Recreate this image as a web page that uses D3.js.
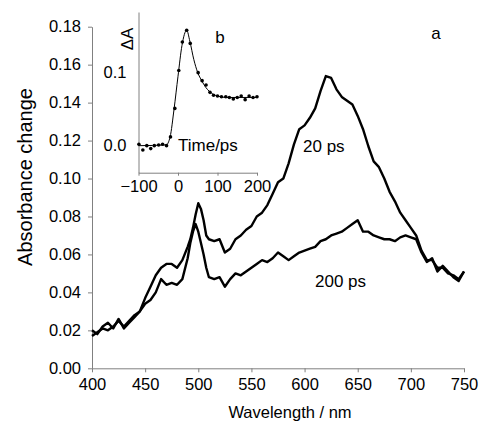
<!DOCTYPE html>
<html lang="en">

<head>
    <script src='https://d3js.org/d3.v7.min.js'></script>
    <style>
        body { margin: 0; background: #fff; }
        text { font-family: "Liberation Sans", Arial, sans-serif; fill: #000; }
    </style>
</head>

<body>

    <script>

        // spectra (main panel a)
        var wavelengths = [400, 405, 410, 415, 420, 425, 430, 435, 440, 445, 450, 455, 460, 465, 470, 475, 480, 485, 490, 492.5, 495, 497.5, 500, 502.5, 505, 507.5, 510, 515, 520, 525, 530, 535, 540, 545, 550, 555, 560, 565, 570, 575, 580, 585, 590, 595, 600, 605, 610, 615, 620, 625, 630, 635, 640, 645, 650, 655, 660, 665, 670, 675, 680, 685, 690, 695, 700, 705, 710, 715, 720, 725, 730, 735, 740, 745, 750];

        var abs20ps = [0.017, 0.019, 0.021, 0.020, 0.022, 0.025, 0.022, 0.025, 0.028, 0.030, 0.037, 0.043, 0.049, 0.053, 0.055, 0.055, 0.053, 0.057, 0.064, 0.068, 0.074, 0.081, 0.087, 0.084, 0.078, 0.070, 0.068, 0.067, 0.068, 0.061, 0.063, 0.068, 0.070, 0.073, 0.075, 0.080, 0.082, 0.086, 0.092, 0.098, 0.100, 0.108, 0.118, 0.126, 0.128, 0.132, 0.137, 0.146, 0.154, 0.153, 0.147, 0.143, 0.141, 0.139, 0.133, 0.126, 0.117, 0.109, 0.106, 0.100, 0.093, 0.088, 0.082, 0.078, 0.074, 0.070, 0.062, 0.057, 0.057, 0.053, 0.053, 0.050, 0.049, 0.047, 0.051];

        var abs200ps = [0.020, 0.018, 0.022, 0.024, 0.021, 0.026, 0.021, 0.024, 0.027, 0.030, 0.034, 0.036, 0.040, 0.047, 0.044, 0.045, 0.044, 0.047, 0.058, 0.066, 0.072, 0.076, 0.072, 0.066, 0.060, 0.053, 0.048, 0.047, 0.048, 0.043, 0.047, 0.050, 0.049, 0.051, 0.053, 0.055, 0.057, 0.056, 0.058, 0.061, 0.059, 0.057, 0.059, 0.061, 0.062, 0.063, 0.064, 0.067, 0.068, 0.070, 0.071, 0.072, 0.074, 0.076, 0.078, 0.072, 0.072, 0.070, 0.069, 0.068, 0.068, 0.067, 0.069, 0.070, 0.069, 0.068, 0.061, 0.056, 0.058, 0.051, 0.054, 0.051, 0.048, 0.046, 0.051];

        var xTicks = [400, 450, 500, 550, 600, 650, 700, 750];
        var yTicks = [0, 0.02, 0.04, 0.06, 0.08, 0.10, 0.12, 0.14, 0.16, 0.18];

        // kinetics (inset b)
        var insetTime = [-99, -89, -79, -69, -60, -49, -39, -29, -19, -8, 2, 11, 22, 31, 51, 61, 71, 81, 90, 100, 110, 121, 130, 140, 150, 160, 170, 180, 190, 200];
        var insetDA = [0.002, -0.006, 0.000, -0.004, 0.000, 0.001, 0.002, 0.000, 0.012, 0.051, 0.103, 0.142, 0.158, 0.140, 0.100, 0.089, 0.083, 0.073, 0.069, 0.068, 0.067, 0.067, 0.066, 0.064, 0.066, 0.068, 0.063, 0.068, 0.066, 0.067];

        var fitTime = [-100, -30, -20, -10, 0, 10, 22, 30, 40, 50, 60, 70, 80, 90, 100, 120, 150, 200];
        var fitDA = [0.000, 0.001, 0.012, 0.050, 0.095, 0.137, 0.158, 0.143, 0.118, 0.100, 0.089, 0.080, 0.074, 0.070, 0.068, 0.066, 0.066, 0.066];

        var insetXTicks = [-100, 0, 100, 200];
        var insetYTicks = [0, 0.1];

        var width = 480,
            height = 423;

        var svg = d3.select("body").append("svg")
            .attr("width", width)
            .attr("height", height);

        var x = d3.scaleLinear().domain([400, 750]).range([92, 464]);
        var y = d3.scaleLinear().domain([0, 0.18]).range([368.3, 26.7]);

        var axisColor = "#808080";

        var gx = svg.append("g")
            .attr("transform", "translate(0," + y(0) + ")")
            .call(d3.axisBottom(x).tickValues(xTicks).tickSize(4).tickSizeOuter(0).tickPadding(6));

        var gy = svg.append("g")
            .attr("transform", "translate(" + x(400) + ",0)")
            .call(d3.axisLeft(y).tickValues(yTicks).tickSize(4).tickSizeOuter(0).tickPadding(7)
                .tickFormat(d3.format(".2f")));

        [gx, gy].forEach(function (g) {
            g.select(".domain").attr("stroke", axisColor);
            g.selectAll(".tick line").attr("stroke", axisColor);
            g.selectAll(".tick text")
                .attr("font-size", 16.5)
                .attr("font-family", "Liberation Sans, Arial, sans-serif")
                .attr("fill", "#000");
        });

        svg.append("text")
            .attr("x", 290)
            .attr("y", 418)
            .attr("text-anchor", "middle")
            .attr("font-size", 16.5)
            .text("Wavelength / nm");

        svg.append("text")
            .attr("transform", "translate(32,177) rotate(-90)")
            .attr("text-anchor", "middle")
            .attr("font-size", 20)
            .text("Absorbance change");

        var line = d3.line()
            .x(function (d) { return x(d[0]); })
            .y(function (d) { return y(d[1]); });

        [abs200ps, abs20ps].forEach(function (vals) {
            svg.append("path")
                .datum(wavelengths.map(function (w, i) { return [w, vals[i]]; }))
                .attr("fill", "none")
                .attr("stroke", "#000")
                .attr("stroke-width", 2.4)
                .attr("stroke-linejoin", "round")
                .attr("d", line);
        });

        svg.append("text").attr("x", 303).attr("y", 152).attr("font-size", 17).text("20 ps");
        svg.append("text").attr("x", 315).attr("y", 287).attr("font-size", 17).text("200 ps");
        svg.append("text").attr("x", 436).attr("y", 39).attr("text-anchor", "middle").attr("font-size", 17).text("a");

        // inset
        var xi = d3.scaleLinear().domain([-100, 200]).range([138.5, 257]);
        var yi = d3.scaleLinear().domain([-0.037, 0.183]).range([172.7, 12]);

        var gxi = svg.append("g")
            .attr("transform", "translate(0," + yi(-0.037) + ")")
            .call(d3.axisBottom(xi).tickValues(insetXTicks).tickSize(3).tickSizeOuter(0).tickPadding(5));

        var gyi = svg.append("g")
            .attr("transform", "translate(" + xi(-100) + ",0)")
            .call(d3.axisLeft(yi).tickValues(insetYTicks).tickSize(0).tickSizeOuter(0).tickPadding(12)
                .tickFormat(d3.format(".1f")));

        [gxi, gyi].forEach(function (g) {
            g.select(".domain").attr("stroke", axisColor);
            g.selectAll(".tick line").attr("stroke", axisColor);
            g.selectAll(".tick text")
                .attr("font-size", 16.5)
                .attr("font-family", "Liberation Sans, Arial, sans-serif")
                .attr("fill", "#000");
        });

        svg.append("path")
            .datum(fitTime.map(function (t, i) { return [t, fitDA[i]]; }))
            .attr("fill", "none")
            .attr("stroke", "#000")
            .attr("stroke-width", 1)
            .attr("d", d3.line()
                .x(function (d) { return xi(d[0]); })
                .y(function (d) { return yi(d[1]); })
                .curve(d3.curveMonotoneX));

        svg.selectAll("circle.pt")
            .data(insetTime.map(function (t, i) { return [t, insetDA[i]]; }))
            .enter().append("circle")
            .attr("class", "pt")
            .attr("cx", function (d) { return xi(d[0]); })
            .attr("cy", function (d) { return yi(d[1]); })
            .attr("r", 1.8)
            .attr("fill", "#000");

        svg.append("text")
            .attr("transform", "translate(133,39) rotate(-90)")
            .attr("text-anchor", "middle")
            .attr("font-size", 17)
            .text("ΔA");

        svg.append("text").attr("x", 220).attr("y", 43).attr("text-anchor", "middle").attr("font-size", 17).text("b");
        svg.append("text").attr("x", 178).attr("y", 151).attr("font-size", 17).text("Time/ps");

    </script>

</body>

</html>
